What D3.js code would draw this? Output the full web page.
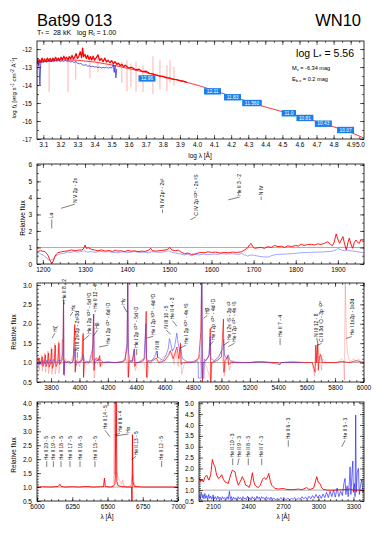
<!DOCTYPE html>
<html>
<head>
<meta charset="utf-8">
<script src="https://cdn.jsdelivr.net/npm/d3@7"></script>
<style>
  body { margin: 0; background: #fff; }
  text { font-family: "Liberation Sans", Arial, Helvetica, sans-serif; white-space: pre; }
</style>
</head>
<body>
<script>
  let [w, h] = [382, 541]
  const FONT = '"Liberation Sans", Arial, Helvetica, sans-serif'

  // ---------- panel 1 : SED, log lambda vs log f ----------
  const sedXTicks = [3.1, 3.2, 3.3, 3.4, 3.5, 3.6, 3.7, 3.8, 3.9, 4.0, 4.1, 4.2, 4.3, 4.4, 4.5, 4.6, 4.7, 4.8, 4.9, 5.0]
  const sedYTicks = [-12, -13, -14, -15, -16, -17]
  const sedModel = [[3.063, -12.7], [3.2, -12.6], [3.3, -12.62], [3.4, -12.72], [3.5, -12.88], [3.6, -13.08], [3.7, -13.3], [3.8, -13.52], [3.9, -13.75], [4.0, -14.0], [4.1, -14.3], [4.2, -14.62], [4.3, -14.92], [4.4, -15.22], [4.5, -15.48], [4.6, -15.74], [4.7, -16.03], [4.8, -16.32], [4.9, -16.63], [4.978, -16.95]]
  const sedObsRed = [[3.063, -12.8], [3.068, -12.55], [3.073, -12.9], [3.078, -12.6], [3.085, -12.75], [3.092, -12.5], [3.1, -12.68], [3.108, -12.55], [3.116, -12.7], [3.124, -12.5], [3.132, -12.66], [3.14, -12.52], [3.148, -12.68], [3.156, -12.5], [3.164, -12.64], [3.172, -12.46], [3.18, -12.62], [3.188, -12.5], [3.196, -12.64], [3.204, -12.45], [3.212, -12.6], [3.22, -12.4], [3.228, -12.56], [3.236, -12.45], [3.244, -12.6], [3.252, -12.42], [3.26, -12.55], [3.268, -12.35], [3.276, -12.55], [3.284, -12.45], [3.292, -12.25], [3.3, -12.52], [3.308, -12.4], [3.316, -12.15], [3.324, -12.48], [3.33, -11.95], [3.336, -12.42], [3.344, -12.3], [3.352, -12.52], [3.36, -12.35], [3.368, -12.58], [3.376, -12.42], [3.384, -12.6], [3.392, -12.4], [3.4, -12.62], [3.41, -12.48], [3.42, -12.32], [3.43, -12.64], [3.44, -12.52], [3.45, -12.7], [3.46, -12.5], [3.47, -12.72], [3.48, -12.62], [3.49, -12.76], [3.5, -12.64], [3.51, -12.8], [3.52, -12.7], [3.53, -12.85], [3.54, -12.78], [3.55, -12.92], [3.56, -12.85], [3.57, -12.98], [3.58, -12.9], [3.6, -13.05], [3.62, -13.02], [3.64, -13.15], [3.66, -13.12], [3.68, -13.25], [3.7, -13.22], [3.72, -13.35], [3.74, -13.38], [3.76, -13.45], [3.78, -13.5], [3.8, -13.52], [3.82, -13.6], [3.84, -13.62], [3.86, -13.68], [3.88, -13.7], [3.9, -13.76], [3.92, -13.78], [3.94, -13.85]]
  const sedObsBlue = [[3.063, -12.85], [3.07, -12.7], [3.075, -12.95], [3.08, -14.0], [3.085, -12.8], [3.09, -12.7], [3.1, -12.75], [3.11, -12.68], [3.12, -12.72], [3.13, -12.66], [3.14, -12.7], [3.15, -12.65], [3.16, -12.7], [3.17, -12.64], [3.18, -12.68], [3.19, -12.62], [3.2, -12.7], [3.21, -12.65], [3.22, -12.68], [3.23, -12.62], [3.24, -12.7], [3.25, -12.66], [3.26, -12.72], [3.27, -12.68], [3.28, -12.75], [3.29, -12.7], [3.3, -12.78], [3.31, -12.82], [3.32, -12.8], [3.33, -12.88], [3.34, -12.9], [3.35, -12.86], [3.36, -12.95], [3.37, -12.93], [3.38, -12.98], [3.39, -12.95], [3.4, -13.0], [3.41, -12.98], [3.42, -13.03], [3.43, -13.0], [3.44, -13.05], [3.45, -13.02], [3.46, -13.05], [3.47, -13.0], [3.48, -13.06], [3.49, -13.03], [3.5, -13.05], [3.51, -12.85], [3.515, -13.3], [3.52, -12.9], [3.525, -13.6], [3.53, -13.1]]
  // light red absorption/emission spikes: [log lambda, top, bottom]
  const sedSpikes = [[3.065, -12.7, -14.8], [3.134, -12.5, -14.4], [3.245, -12.4, -14.4], [3.29, -12.4, -13.7], [3.373, -12.5, -13.6], [3.42, -12.4, -13.3], [3.56, -12.7, -13.87], [3.59, -12.6, -14.35], [3.613, -12.8, -14.1], [3.643, -12.7, -14.4], [3.684, -12.9, -14.4], [3.742, -12.4, -14.5], [3.783, -12.6, -14.25], [3.824, -12.9, -14.35], [3.842, -12.6, -13.87], [3.865, -13.0, -14.03]]
  const photLogLam = [3.707, 4.091, 4.208, 4.322, 4.538, 4.632, 4.74, 4.87]
  const photLogF = [-13.63, -14.35, -14.68, -15.0, -15.57, -15.83, -16.15, -16.5]
  const photMag = ["12.96", "12.11", "11.83", "11.560", "11.0", "10.81", "10.43", "10.07"]

  // ---------- panel 2 : UV 1200-1950 ----------
  const uvXTicks = [1200, 1300, 1400, 1500, 1600, 1700, 1800, 1900]
  const uvYTicks = [0, 1, 2, 3, 4, 5, 6]
  const uvModel = [[1186, 0.65], [1190, 0.78], [1195, 0.81], [1200, 0.77], [1205, 0.75], [1210, 0.6], [1213, 0.48], [1217, 0.2], [1221, 0.04], [1224, 0.14], [1228, 0.44], [1232, 0.6], [1236, 0.69], [1244, 0.74], [1252, 0.77], [1260, 0.8], [1268, 0.85], [1276, 0.8], [1284, 0.84], [1292, 0.85], [1296, 0.9], [1300, 1.15], [1303, 0.95], [1308, 0.98], [1315, 0.89], [1322, 0.85], [1330, 0.8], [1339, 0.85], [1348, 0.78], [1356, 0.82], [1365, 0.76], [1372, 0.83], [1378, 0.78], [1386, 0.8], [1394, 0.75], [1402, 0.82], [1410, 0.77], [1418, 0.8], [1426, 0.74], [1434, 0.78], [1442, 0.76], [1450, 0.82], [1456, 0.95], [1460, 0.8], [1470, 0.78], [1480, 0.82], [1490, 0.84], [1497, 0.9], [1501, 1.0], [1506, 0.85], [1514, 0.8], [1521, 0.84], [1528, 0.72], [1536, 0.62], [1544, 0.66], [1552, 0.58], [1560, 0.6], [1568, 0.66], [1576, 0.7], [1584, 0.68], [1592, 0.74], [1600, 0.7], [1610, 0.72], [1620, 0.66], [1630, 0.7], [1640, 0.68], [1650, 0.72], [1660, 0.7], [1671, 0.74], [1679, 0.85], [1686, 0.98], [1690, 1.15], [1694, 1.25], [1698, 1.05], [1702, 0.95], [1710, 0.98], [1718, 1.0], [1726, 0.95], [1734, 1.05], [1742, 1.0], [1750, 1.12], [1758, 1.05], [1766, 1.08], [1773, 1.0], [1781, 1.1], [1790, 1.05], [1800, 1.12], [1806, 1.08], [1813, 1.2], [1820, 1.12], [1828, 1.18], [1837, 1.19], [1845, 1.15], [1852, 1.22], [1860, 1.18], [1868, 1.25], [1876, 1.35], [1882, 1.2], [1887, 1.1], [1891, 1.3], [1896, 1.82], [1900, 1.5], [1904, 1.25], [1908, 1.45], [1912, 1.66], [1916, 1.2], [1920, 0.85], [1924, 1.3], [1927, 1.56], [1931, 1.2], [1935, 0.95], [1939, 1.3], [1943, 1.45], [1947, 1.3], [1951, 1.25], [1955, 1.5], [1959, 1.35], [1962, 1.4]]
  const uvObs = [[1186, 0.75], [1190, 0.7], [1195, 0.6], [1200, 0.55], [1205, 0.45], [1210, 0.35], [1213, 0.25], [1218, 0.22], [1222, 0.28], [1226, 0.3], [1230, 0.5], [1236, 0.55], [1242, 0.62], [1250, 0.65], [1258, 0.72], [1266, 0.7], [1274, 0.75], [1282, 0.72], [1290, 0.75], [1298, 0.8], [1306, 0.72], [1315, 0.75], [1325, 0.7], [1335, 0.78], [1345, 0.72], [1355, 0.75], [1365, 0.7], [1378, 0.68], [1390, 0.74], [1400, 0.7], [1410, 0.72], [1418, 0.75], [1430, 0.7], [1440, 0.72], [1450, 0.68], [1458, 0.74], [1470, 0.72], [1480, 0.7], [1490, 0.76], [1497, 0.8], [1505, 0.72], [1515, 0.66], [1521, 0.64], [1530, 0.58], [1536, 0.55], [1544, 0.6], [1552, 0.5], [1560, 0.58], [1570, 0.55], [1580, 0.6], [1592, 0.56], [1605, 0.6], [1615, 0.58], [1623, 0.62], [1635, 0.6], [1650, 0.62], [1665, 0.58], [1671, 0.65], [1679, 0.55], [1686, 0.48], [1694, 0.55], [1702, 0.52], [1712, 0.47], [1720, 0.44], [1734, 0.42], [1742, 0.5], [1750, 0.56], [1760, 0.58], [1773, 0.6], [1790, 0.62], [1813, 0.68], [1830, 0.7], [1852, 0.72], [1870, 0.74], [1884, 0.76], [1896, 0.85], [1900, 0.95], [1908, 0.85], [1916, 0.8], [1925, 0.82], [1935, 0.78], [1945, 0.75], [1955, 0.7], [1962, 0.69]]
  const uvIds = [["Lα", 1221, 2.15, 1221, 2.7], ["N V 2p - 2s", 1243, 3.37, 1276, 3.62], ["N IV 2p¹ - 2s²", 1484, 3.09, 1484, 3.3], ["C IV 2p ²P° - 2s ²S", 1550, 2.67, 1563, 2.85], ["He II 3 - 2", 1640, 3.88, 1667, 4.05], ["N IV", 1718, 3.88, 1718, 4.08]]

  // ---------- panel 3 : optical 3700-6000 ----------
  const optXTicks = [3800, 4000, 4200, 4400, 4600, 4800, 5000, 5200, 5400, 5600, 5800, 6000]
  const optYTicks = [0.5, 1.0, 1.5, 2.0, 2.5, 3.0]
  const optPink = [[3700, 1.0], [3712, 1.15], [3716, 0.8], [3726, 1.0], [3734, 1.2], [3738, 0.78], [3748, 1.0], [3756, 1.25], [3760, 0.75], [3770, 1.0], [3778, 1.3], [3782, 0.72], [3794, 1.0], [3801, 1.4], [3805, 0.7], [3818, 1.0], [3826, 1.5], [3830, 0.7], [3843, 1.0], [3852, 1.55], [3856, 0.72], [3868, 1.1], [3880, 1.6], [3886, 1.0], [3893, 0.65], [3900, 1.1], [3930, 0.95], [3960, 1.2], [3966, 1.9], [3972, 0.8], [3985, 1.1], [4000, 0.9], [4015, 1.2], [4024, 1.7], [4028, 0.62], [4035, 1.0], [4060, 0.95], [4090, 1.2], [4105, 0.6], [4112, 1.1], [4130, 0.95], [4140, 1.15], [4150, 0.9], [4170, 1.0], [4220, 1.0], [4300, 1.0], [4330, 1.1], [4345, 0.62], [4355, 1.0], [4380, 1.1], [4395, 0.8], [4410, 1.0], [4450, 1.1], [4478, 0.6], [4490, 1.0], [4520, 1.1], [4560, 1.0], [4590, 1.15], [4620, 1.2], [4650, 1.35], [4665, 0.95], [4680, 1.3], [4695, 0.9], [4712, 1.45], [4720, 0.7], [4740, 1.0], [4820, 1.0], [4845, 1.2], [4870, 0.6], [4880, 1.05], [4925, 0.55], [4935, 1.0], [4975, 1.1], [5000, 1.3], [5020, 0.65], [5030, 1.0], [5045, 1.2], [5055, 0.8], [5070, 1.05], [5150, 1.0], [5280, 1.03], [5300, 1.0], [5500, 1.0], [5640, 1.0], [5655, 0.65], [5663, 1.45], [5672, 1.1], [5680, 1.45], [5688, 1.0], [5695, 1.25], [5705, 0.8], [5712, 1.1], [5740, 1.0], [5820, 1.0], [5845, 1.1], [5860, 1.05], [5866, 0.55], [5872, 3.1], [5880, 1.6], [5890, 1.2], [5905, 1.0], [5930, 1.1], [5950, 1.0], [5965, 1.1], [5980, 1.0], [6004, 1.05]]
  const optModel = [[3700, 1.0], [3710, 1.0], [3716, 1.12], [3720, 0.95], [3730, 1.0], [3738, 1.15], [3742, 0.9], [3752, 1.0], [3760, 1.2], [3764, 0.9], [3775, 1.0], [3782, 1.25], [3786, 0.88], [3798, 1.0], [3805, 1.35], [3809, 0.85], [3822, 1.0], [3830, 1.45], [3834, 0.9], [3848, 1.0], [3856, 1.5], [3860, 0.95], [3875, 1.05], [3883, 1.1], [3888, 2.6], [3890, 0.7], [3895, 1.05], [3910, 1.0], [3925, 1.03], [3940, 0.98], [3955, 1.03], [3967, 1.98], [3970, 0.75], [3975, 1.05], [3990, 1.0], [4005, 1.03], [4020, 1.06], [4026, 1.75], [4029, 0.62], [4034, 1.0], [4050, 1.03], [4070, 1.0], [4090, 1.06], [4100, 2.25], [4103, 0.8], [4108, 1.08], [4120, 1.12], [4130, 1.04], [4143, 1.18], [4146, 0.9], [4155, 1.0], [4200, 1.02], [4250, 1.0], [4300, 1.02], [4320, 1.05], [4336, 1.4], [4340, 3.1], [4344, 0.62], [4350, 1.05], [4370, 1.0], [4386, 1.35], [4390, 0.9], [4400, 1.0], [4440, 1.02], [4460, 1.1], [4470, 2.32], [4474, 0.62], [4480, 1.05], [4500, 1.0], [4540, 1.12], [4560, 1.0], [4600, 1.05], [4630, 1.2], [4640, 1.3], [4660, 1.1], [4686, 1.4], [4700, 1.1], [4712, 1.5], [4716, 0.95], [4730, 1.0], [4800, 1.02], [4840, 1.1], [4855, 1.8], [4861, 3.1], [4866, 0.5], [4872, 1.0], [4890, 1.05], [4915, 1.2], [4921, 1.88], [4925, 0.5], [4930, 1.0], [4970, 1.05], [5000, 1.15], [5014, 2.12], [5018, 0.75], [5025, 1.05], [5045, 1.15], [5050, 0.95], [5070, 1.0], [5200, 1.0], [5250, 1.02], [5400, 1.0], [5411, 0.95], [5420, 1.0], [5500, 1.02], [5600, 1.0], [5640, 1.0], [5660, 0.75], [5665, 1.45], [5670, 1.0], [5678, 1.48], [5682, 0.8], [5690, 1.15], [5700, 1.2], [5710, 1.0], [5760, 1.0], [5800, 1.0], [5850, 1.03], [5900, 1.0], [5950, 1.05], [6004, 1.0]]
  const optObs = [[3700, 1.0], [3712, 0.93], [3722, 1.04], [3734, 0.95], [3746, 1.05], [3758, 0.96], [3770, 1.06], [3782, 0.96], [3794, 1.08], [3806, 0.97], [3818, 1.08], [3832, 1.0], [3850, 1.05], [3870, 1.05], [3885, 1.3], [3888, 2.6], [3891, 0.68], [3895, 1.0], [3920, 1.02], [3950, 1.0], [3966, 1.2], [3969, 1.37], [3972, 0.9], [3985, 1.0], [4010, 1.02], [4026, 1.2], [4040, 1.0], [4070, 1.02], [4095, 1.4], [4100, 2.25], [4104, 0.95], [4120, 1.05], [4145, 1.08], [4170, 1.0], [4250, 1.0], [4300, 1.02], [4320, 1.1], [4335, 1.5], [4340, 3.1], [4345, 1.3], [4355, 1.05], [4375, 1.05], [4388, 1.35], [4392, 1.0], [4420, 1.0], [4455, 1.1], [4468, 2.0], [4472, 1.1], [4485, 1.05], [4510, 1.05], [4530, 1.15], [4542, 1.3], [4550, 1.15], [4570, 1.1], [4590, 1.05], [4610, 1.2], [4625, 1.35], [4634, 1.62], [4642, 1.5], [4655, 1.3], [4670, 1.4], [4686, 1.76], [4695, 1.5], [4705, 1.3], [4713, 1.35], [4725, 1.1], [4760, 1.02], [4800, 1.0], [4830, 1.05], [4836, 1.0], [4838, 0.6], [4857, 0.6], [4859, 3.1], [4864, 3.1], [4866, 0.6], [4877, 0.6], [4879, 1.1], [4890, 1.05], [4910, 1.15], [4921, 1.67], [4926, 1.1], [4950, 1.05], [4980, 1.15], [5000, 1.3], [5010, 1.35], [5016, 1.6], [5022, 1.2], [5035, 1.1], [5048, 1.2], [5060, 1.05], [5100, 1.0], [5200, 1.0], [5300, 1.02], [5411, 0.95], [5420, 1.0], [5500, 1.0], [5560, 1.0]]
  const optIds = [["Hζ", 3807, 1.63, 3828, 1.76], ["He II 8 - 2", 3892, 2.5, 3892, 2.56], ["Hε", 3934, 2.2, 3953, 2.3], ["N III 2s²3p - 2s²3d", 3985, 1.12, 3985, 1.27], ["He I 2p ³P° - 5d ³D", 4027, 1.58, 4070, 1.71], ["He II 12 - 4", 4111, 2.3, 4111, 2.35], ["Hδ", 4102, 1.7, 4127, 1.84], ["He I 2p ¹P° - 6d ¹D", 4138, 1.4, 4203, 1.45], ["Hγ", 4335, 2.3, 4309, 2.46], ["He I 2p ¹P° - 5d ¹D", 4403, 1.19, 4403, 1.35], ["He I 2p ³P° - 4d ³D", 4474, 1.63, 4520, 1.68], ["N III", 4549, 1.12, 4549, 1.3], ["N III 10 - 5", 4642, 1.73, 4610, 1.84], ["He II 4 - 3", 4686, 1.94, 4655, 2.08], ["He I 2p ³P° - 4s ³S", 4708, 1.37, 4751, 1.45], ["Hβ", 4875, 2.14, 4901, 2.22], ["He I 2p ¹P° - 4d ¹D", 4920, 1.45, 4943, 1.55], ["He I 2s ¹S - 3p ¹P", 5016, 1.45, 5056, 1.55], ["He I 2p ¹P° - 4s ¹S", 5048, 1.41, 5092, 1.5], ["He II 7 - 4", 5413, 1.45, 5413, 1.63], ["N III 12 - 8", 5682, 1.45, 5671, 1.63], ["C III 3d ¹D - 3p ¹P°", 5682, 1.45, 5706, 1.5], ["He I 1s2p - 1s3d", 5877, 1.62, 5918, 1.67]]

  // ---------- panel 4a : red 6000-7000 ----------
  const redXTicks = [6000, 6250, 6500, 6750, 7000]
  const redYTicks = [0.5, 1.0, 1.5, 2.0, 2.5, 3.0, 3.5, 4.0]
  const redPink = [[6530, 1.0], [6540, 1.1], [6545, 1.35], [6548, 4.1], [6551, 1.45], [6556, 1.5], [6565, 1.55], [6572, 1.4], [6580, 1.3], [6590, 1.2], [6600, 1.1], [6608, 1.25], [6615, 1.05], [6640, 1.0], [6665, 1.05], [6672, 1.3], [6680, 1.45], [6688, 1.15], [6700, 1.02], [6720, 1.0]]
  const redModel = [[6000, 1.0], [6040, 1.01], [6100, 1.0], [6150, 1.02], [6163, 1.1], [6172, 1.02], [6200, 1.0], [6250, 1.01], [6300, 1.0], [6350, 1.02], [6400, 1.0], [6450, 1.01], [6472, 1.02], [6478, 1.32], [6484, 1.02], [6520, 1.0], [6540, 1.02], [6552, 1.1], [6555, 1.3], [6559, 4.1], [6563, 4.1], [6566, 1.2], [6575, 1.05], [6600, 1.02], [6640, 1.0], [6670, 1.0], [6674, 0.3], [6677, 2.88], [6680, 1.2], [6690, 1.02], [6750, 1.0], [6850, 1.0], [7000, 1.0]]
  const redIds = [["He II 20 - 5", 6069, 1.72, 6069, 1.93], ["He II 19 - 5", 6116, 1.72, 6116, 1.93], ["He II 18 - 5", 6170, 1.72, 6170, 1.93], ["He II 17 - 5", 6234, 1.72, 6234, 1.93], ["He II 16 - 5", 6305, 1.72, 6305, 1.93], ["He II 15 - 5", 6411, 1.72, 6411, 1.93], ["He II 14 - 5", 6518, 2.8, 6482, 3.04], ["He II 6 - 4", 6553, 2.86, 6589, 2.94], ["Hα", 6563, 2.84, 6649, 2.9], ["He II 13 - 5", 6672, 1.99, 6702, 2.1], ["He II 12 - 5", 6884, 1.72, 6884, 1.93]]

  // ---------- panel 4b : near UV 2000-3350 ----------
  const nuvXTicks = [2100, 2400, 2700, 3000, 3300]
  const nuvYTicks = [0.5, 1.0, 1.5, 2.0, 2.5, 3.0, 3.5, 4.0, 4.5, 5.0]
  const nuvModel = [[1985, 1.55], [1995, 1.4], [2005, 1.5], [2017, 1.38], [2030, 1.6], [2046, 1.69], [2056, 1.55], [2065, 1.46], [2080, 1.7], [2094, 2.41], [2105, 2.2], [2117, 2.07], [2130, 1.7], [2145, 1.54], [2160, 1.6], [2174, 1.71], [2188, 1.5], [2202, 1.38], [2215, 1.35], [2230, 1.31], [2250, 1.7], [2265, 1.92], [2278, 1.88], [2288, 1.84], [2300, 1.5], [2316, 1.23], [2333, 1.4], [2350, 1.62], [2365, 1.45], [2379, 1.23], [2395, 1.2], [2407, 1.12], [2420, 1.3], [2436, 1.8], [2448, 1.4], [2459, 1.23], [2475, 1.15], [2487, 1.12], [2500, 1.2], [2510, 1.31], [2523, 1.5], [2536, 1.58], [2553, 1.49], [2565, 1.6], [2576, 1.77], [2590, 1.4], [2601, 1.23], [2615, 1.15], [2630, 1.08], [2660, 1.05], [2700, 1.08], [2730, 1.03], [2780, 1.02], [2830, 1.05], [2860, 1.02], [2900, 1.12], [2915, 1.05], [2929, 1.03], [2960, 1.1], [2986, 1.62], [3000, 1.35], [3014, 1.3], [3030, 1.1], [3042, 1.03], [3080, 1.0], [3128, 1.0], [3200, 1.02], [3271, 1.05], [3300, 1.0], [3388, 1.0]]
  const nuvObs = [[1985, 0.75], [1992, 0.6], [2000, 0.9], [2008, 0.65], [2015, 0.8], [2022, 0.6], [2030, 0.85], [2038, 0.62], [2046, 0.75], [2055, 0.58], [2063, 0.8], [2072, 0.62], [2080, 0.72], [2090, 0.58], [2100, 0.78], [2110, 0.6], [2120, 0.7], [2130, 0.56], [2140, 0.72], [2150, 0.6], [2160, 0.68], [2170, 0.55], [2180, 0.7], [2190, 0.6], [2200, 0.66], [2210, 0.56], [2220, 0.7], [2230, 0.58], [2240, 0.95], [2248, 0.6], [2256, 0.7], [2265, 0.55], [2275, 0.68], [2285, 0.58], [2295, 0.65], [2305, 0.55], [2315, 0.7], [2325, 0.6], [2335, 0.66], [2345, 0.55], [2355, 0.7], [2365, 0.6], [2375, 0.64], [2385, 0.56], [2395, 0.72], [2405, 0.58], [2415, 0.65], [2425, 0.55], [2435, 0.7], [2445, 0.6], [2455, 0.66], [2465, 0.55], [2475, 0.72], [2485, 0.6], [2495, 0.68], [2505, 0.56], [2515, 0.7], [2525, 0.62], [2535, 0.66], [2545, 0.55], [2555, 0.7], [2565, 0.6], [2575, 0.65], [2585, 0.56], [2595, 0.68], [2605, 0.58], [2620, 0.64], [2635, 0.55], [2650, 0.62], [2665, 0.56], [2680, 0.66], [2695, 0.55], [2710, 0.62], [2725, 0.56], [2740, 0.64], [2755, 0.55], [2770, 0.62], [2785, 0.58], [2800, 0.66], [2815, 0.56], [2830, 0.64], [2845, 0.58], [2860, 0.7], [2875, 0.6], [2890, 0.68], [2905, 0.58], [2920, 0.72], [2935, 0.6], [2950, 0.75], [2965, 0.62], [2980, 0.8], [2995, 0.64], [3010, 0.78], [3025, 0.62], [3040, 0.82], [3055, 0.65], [3070, 0.9], [3085, 0.66], [3100, 0.95], [3115, 0.7], [3130, 1.0], [3145, 0.68], [3160, 1.1], [3175, 0.7], [3190, 0.95], [3205, 0.75], [3218, 1.3], [3228, 1.54], [3235, 0.8], [3245, 1.2], [3255, 0.7], [3265, 1.4], [3271, 2.07], [3278, 0.8], [3286, 1.6], [3294, 2.34], [3300, 0.9], [3308, 1.3], [3314, 0.7], [3319, 4.46], [3324, 0.9], [3332, 1.8], [3342, 2.0], [3350, 0.8], [3360, 1.2], [3371, 1.5], [3380, 0.9], [3388, 1.0]]
  const nuvIds = [["He II 10 - 3", 2268, 2.15, 2268, 2.46], ["He II 9 - 3", 2310, 2.15, 2322, 2.46], ["He II 8 - 3", 2401, 2.15, 2401, 2.46], ["He II 7 - 3", 2516, 2.15, 2516, 2.46], ["He II 6 - 3", 2743, 3.0, 2743, 3.3], ["He II 5 - 3", 3200, 3.0, 3228, 3.3]]

  var svg = d3.select("body").append("svg")
    .attr("width", w)
    .attr("height", h)
    .style("display", "block")

  var inRange = (v, d) => v >= Math.min(d[0], d[1]) - 1e-9 && v <= Math.max(d[0], d[1]) + 1e-9
  var steps = (a, b, s) => d3.range(Math.round((b - a) / s) + 1).map(i => +(a + i * s).toFixed(4))

  // one framed panel with inward ticks on all four sides
  function panel(o) {
    var x = d3.scaleLinear().domain(o.xd).range([o.l, o.r])
    var y = d3.scaleLinear().domain(o.yd).range([o.b, o.t])
    var g = svg.append("g")
    g.append("clipPath").attr("id", o.id).append("rect")
      .attr("x", o.l).attr("y", o.t).attr("width", o.r - o.l).attr("height", o.b - o.t)
    var plot = g.append("g").attr("clip-path", "url(#" + o.id + ")")

    var tk = function (axis, scale, vals, size, tr) {
      g.append("g").attr("transform", tr)
        .call(axis(scale).tickValues(vals).tickSize(size).tickFormat(""))
        .call(s => s.select(".domain").remove())
        .selectAll("line").attr("stroke-width", 0.6)
    }
    var xMaj = o.xLab.filter(v => inRange(v, o.xd)), yMaj = o.yLab.filter(v => inRange(v, o.yd))
    var xMin = o.xMin.filter(v => inRange(v, o.xd)), yMin = o.yMin.filter(v => inRange(v, o.yd))
    tk(d3.axisBottom, x, xMaj, -4, "translate(0," + o.b + ")")
    tk(d3.axisTop, x, xMaj, -4, "translate(0," + o.t + ")")
    tk(d3.axisBottom, x, xMin, -2, "translate(0," + o.b + ")")
    tk(d3.axisTop, x, xMin, -2, "translate(0," + o.t + ")")
    tk(d3.axisLeft, y, yMaj, -4, "translate(" + o.l + ",0)")
    tk(d3.axisRight, y, yMaj, -4, "translate(" + o.r + ",0)")
    tk(d3.axisLeft, y, yMin, -2, "translate(" + o.l + ",0)")
    tk(d3.axisRight, y, yMin, -2, "translate(" + o.r + ",0)")

    g.append("rect").attr("x", o.l).attr("y", o.t)
      .attr("width", o.r - o.l).attr("height", o.b - o.t)
      .attr("fill", "none").attr("stroke", "#000").attr("stroke-width", 0.8)

    var bx = g.append("g").attr("transform", "translate(0," + o.b + ")")
      .call(d3.axisBottom(x).tickValues(o.xLab).tickSize(0).tickPadding(3.5).tickFormat(o.xf))
    bx.select(".domain").remove()
    bx.selectAll("text").attr("font-size", 6.5).attr("font-family", FONT)

    var ly = g.append("g").attr("transform", "translate(" + o.l + ",0)")
      .call(d3.axisLeft(y).tickValues(o.yLab).tickSize(0).tickPadding(5).tickFormat(o.yf))
    ly.select(".domain").remove()
    ly.selectAll("text").attr("font-size", 6.5).attr("font-family", FONT)

    return { x: x, y: y, g: g, plot: plot, bx: bx, o: o }
  }

  function curve(p, data, color, width, op) {
    var line = d3.line().x(d => p.x(d[0])).y(d => p.y(d[1]))
    p.plot.append("path").datum(data).attr("d", line)
      .attr("fill", "none").attr("stroke", color)
      .attr("stroke-width", width).attr("stroke-opacity", op || 1)
      .attr("stroke-linejoin", "round")
  }

  function unity(p) {
    p.plot.append("line")
      .attr("x1", p.o.l).attr("x2", p.o.r)
      .attr("y1", p.y(1)).attr("y2", p.y(1))
      .attr("stroke", "#999").attr("stroke-width", 0.8)
  }

  function lineIds(p, ids, fs) {
    ids.forEach(function (d) {
      var xm = p.x(d[1]), ym = p.y(d[2]), xt = p.x(d[3]), yt = p.y(d[4])
      p.g.append("line").attr("x1", xm).attr("y1", ym).attr("x2", xt).attr("y2", yt)
        .attr("stroke", "#000").attr("stroke-width", 0.5)
      p.g.append("text")
        .attr("transform", "translate(" + xt + "," + (yt - 1.2) + ") rotate(-90)")
        .attr("dy", "0.35em").attr("font-size", fs).text(d[0])
    })
  }

  function yTitle(px, py, size) {
    return svg.append("text").attr("transform", "translate(" + px + "," + py + ") rotate(-90)")
      .attr("text-anchor", "middle").attr("font-size", size)
  }

  // ---------- title block ----------
  svg.append("text").attr("x", 37).attr("y", 26).attr("font-size", 16.5).text("Bat99 013")
  svg.append("text").attr("x", 361).attr("y", 26).attr("font-size", 16.5).attr("text-anchor", "end").text("WN10")
  var sub = svg.append("text").attr("x", 37).attr("y", 34.5).attr("font-size", 7)
  sub.append("tspan").text("T")
  sub.append("tspan").attr("dy", 1.5).attr("font-size", 5).text("*")
  sub.append("tspan").attr("dy", -1.5).text(" =  28 kK   log R")
  sub.append("tspan").attr("dy", 1.5).attr("font-size", 5).text("t")
  sub.append("tspan").attr("dy", -1.5).text(" = 1.00")

  // ---------- panel 1 ----------
  var p1 = panel({
    id: "c1", l: 37, r: 364, t: 41, b: 139, xd: [3.063, 4.978], yd: [-17, -11.55],
    xLab: sedXTicks, yLab: sedYTicks, xMin: steps(3.05, 4.95, 0.05), yMin: steps(-17, -11.5, 0.5),
    xf: d3.format(".1f"), yf: d => String(d)
  })
  // the 5.0 label sits against the right frame
  p1.bx.selectAll(".tick").filter(d => d === 5.0)
    .attr("transform", "translate(" + 365 + ",0)")
    .select("text").attr("text-anchor", "end")
  svg.append("text").attr("x", 200).attr("y", 158).attr("text-anchor", "middle")
    .attr("font-size", 6.5).text("log λ [Å]")
  var t1 = yTitle(16, 88, 6.2)
  t1.append("tspan").text("log ")
  t1.append("tspan").attr("font-style", "italic").text("f")
  t1.append("tspan").attr("dy", 1.3).attr("font-size", 4.6).text("λ")
  t1.append("tspan").attr("dy", -1.3).text(" [erg s")
  t1.append("tspan").attr("dy", -2).attr("font-size", 4.6).text("-1")
  t1.append("tspan").attr("dy", 2).text(" cm")
  t1.append("tspan").attr("dy", -2).attr("font-size", 4.6).text("-2")
  t1.append("tspan").attr("dy", 2).text(" Å")
  t1.append("tspan").attr("dy", -2).attr("font-size", 4.6).text("-1")
  t1.append("tspan").attr("dy", 2).text("]")

  p1.plot.selectAll("line.spk").data(sedSpikes).join("line").attr("class", "spk")
    .attr("x1", d => p1.x(d[0])).attr("x2", d => p1.x(d[0]))
    .attr("y1", d => p1.y(d[1])).attr("y2", d => p1.y(d[2]))
    .attr("stroke", "#ff4040").attr("stroke-opacity", 0.45).attr("stroke-width", 0.9)
  curve(p1, sedModel, "#ff2020", 0.9)
  curve(p1, sedObsRed, "#ff0000", 1.3)
  curve(p1, sedObsBlue, "#2b2bd8", 0.9, 0.85)

  var phot = p1.g.selectAll("g.ph").data(photMag).join("g").attr("class", "ph")
    .attr("transform", (d, i) => "translate(" + p1.x(photLogLam[i]) + "," + p1.y(photLogF[i]) + ")")
  phot.append("rect").attr("x", d => -(d.length * 2.6 + 4) / 2).attr("y", -3.2)
    .attr("width", d => d.length * 2.6 + 4).attr("height", 6.4).attr("fill", "#1b7fe9")
  phot.append("text").attr("text-anchor", "middle").attr("dy", "0.35em")
    .attr("font-size", 4.8).attr("fill", "#fff").text(d => d)

  var lum = svg.append("text").attr("x", 354).attr("y", 57).attr("text-anchor", "end").attr("font-size", 10.5)
  lum.append("tspan").text("log L")
  lum.append("tspan").attr("dy", 2).attr("font-size", 7).text("*")
  lum.append("tspan").attr("dy", -2).text(" = 5.56")
  var mv = svg.append("text").attr("x", 292).attr("y", 69.5).attr("font-size", 5.6)
  mv.append("tspan").text("M")
  mv.append("tspan").attr("dy", 1.2).attr("font-size", 4).text("v")
  mv.append("tspan").attr("dy", -1.2).text(" = -6.34 mag")
  var eb = svg.append("text").attr("x", 292).attr("y", 81).attr("font-size", 5.6)
  eb.append("tspan").text("E")
  eb.append("tspan").attr("dy", 1.2).attr("font-size", 4).text("b-v")
  eb.append("tspan").attr("dy", -1.2).text(" = 0.2 mag")

  // ---------- panel 2 ----------
  var p2 = panel({
    id: "c2", l: 37, r: 364, t: 164, b: 264, xd: [1186, 1962], yd: [0, 6.05],
    xLab: uvXTicks, yLab: uvYTicks, xMin: steps(1200, 1960, 20), yMin: steps(0, 6, 0.5),
    xf: d3.format("d"), yf: d3.format("d")
  })
  unity(p2)
  curve(p2, uvObs, "#6a6aff", 0.8, 0.75)
  curve(p2, uvModel, "#ff0000", 0.9)
  lineIds(p2, uvIds, 5)
  yTitle(24.5, 218, 6.5).text("Relative flux")

  // ---------- panel 3 ----------
  var p3 = panel({
    id: "c3", l: 37, r: 364, t: 283, b: 382, xd: [3701, 6004], yd: [0.5, 3.05],
    xLab: optXTicks, yLab: optYTicks, xMin: steps(3750, 6000, 50), yMin: steps(0.5, 3.0, 0.1),
    xf: d3.format("d"), yf: d3.format(".1f")
  })
  unity(p3)
  curve(p3, optPink, "#ff3030", 0.8, 0.35)
  curve(p3, optModel, "#ff0000", 0.8, 0.85)
  curve(p3, optObs, "#4040ff", 0.9, 0.6)
  lineIds(p3, optIds, 5)
  yTitle(15.5, 332, 6.5).text("Relative flux")

  // ---------- panel 4a ----------
  var p4 = panel({
    id: "c4", l: 37, r: 178, t: 402, b: 501, xd: [6000, 7000], yd: [0.5, 4.05],
    xLab: redXTicks, yLab: redYTicks, xMin: steps(6000, 7000, 50), yMin: steps(0.5, 4.0, 0.1),
    xf: d3.format("d"), yf: d3.format(".1f")
  })
  unity(p4)
  curve(p4, redPink, "#ff3030", 0.8, 0.4)
  curve(p4, redModel, "#ff0000", 0.9)
  lineIds(p4, redIds, 4.8)
  yTitle(15.5, 455, 6.5).text("Relative flux")
  svg.append("text").attr("x", 107).attr("y", 519).attr("text-anchor", "middle").attr("font-size", 6.5).text("λ [Å]")

  // ---------- panel 4b ----------
  var p5 = panel({
    id: "c5", l: 199, r: 364, t: 402, b: 501, xd: [1980, 3390], yd: [0.5, 5.06],
    xLab: nuvXTicks, yLab: nuvYTicks, xMin: steps(2000, 3350, 50), yMin: steps(0.5, 5.0, 0.1),
    xf: d3.format("d"), yf: d3.format(".1f")
  })
  unity(p5)
  curve(p5, nuvObs, "#1a1aff", 0.8, 0.8)
  curve(p5, nuvModel, "#ff0000", 0.9)
  lineIds(p5, nuvIds, 4.8)
  svg.append("text").attr("x", 283).attr("y", 519).attr("text-anchor", "middle").attr("font-size", 6.5).text("λ [Å]")
</script>
</body>
</html>
